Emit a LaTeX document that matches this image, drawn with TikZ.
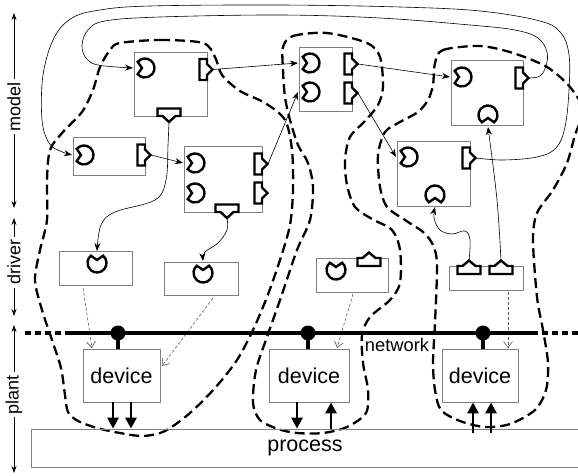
\documentclass[tikz,border=0pt]{standalone}
\usepackage{fontspec}
\setmainfont{Liberation Sans}
\usetikzlibrary{arrows.meta}
\definecolor{boxgray}{RGB}{128,128,128}
\definecolor{ctrlgray}{RGB}{90,90,90}
\tikzset{
 port/.style={draw=black, fill=white, line width=2.4pt, line join=miter},
 pics/inL/.style={code={\draw[port] (220:9.5) arc[start angle=220,end angle=500,radius=9.5] -- (180:3) -- cycle;}},
 pics/inU/.style={code={\draw[port] (310:9.5) arc[start angle=310,end angle=590,radius=9.5] -- (270:3) -- cycle;}},
 pics/inD/.style={code={\draw[port] (130:9.5) arc[start angle=130,end angle=410,radius=9.5] -- (90:3) -- cycle;}},
 pics/rport/.style={code={\draw[port] (-7.5,-10.5) -- (0,-10.5) -- (0,-5.5) -- (5.5,0) -- (0,5.5) -- (0,10.5) -- (-7.5,10.5) -- cycle;}},
 pics/dport/.style={code={\draw[port] (-11.5,-7.5) -- (11.5,-7.5) -- (11.5,0) -- (6.5,0) -- (0,6) -- (-6.5,0) -- (-11.5,0) -- cycle;}},
 pics/uport/.style={code={\draw[port] (-11.5,8) -- (11.5,8) -- (11.5,0) -- (6.5,0) -- (0,-5.5) -- (-6.5,0) -- (-11.5,0) -- cycle;}},
}
\begin{document}
\begin{tikzpicture}[x=1pt,y=-1pt,
 box/.style={draw=boxgray, line width=0.8pt, inner sep=0pt, minimum width=#1},
 box/.default=70pt,
 bigtext/.style={font=\fontsize{21.5}{24}\selectfont},
 conn/.style={draw=black, line width=0.6pt, -{Stealth[length=8pt,width=6pt]}},
 ctrl/.style={draw=ctrlgray, line width=0.6pt, dash pattern=on 3pt off 2pt, -{Straight Barb[length=6pt,width=9pt]}},
 region/.style={draw=black, line width=2.3pt, dash pattern=on 10pt off 5pt},
 net/.style={draw=black, line width=4.5pt},
 netdot/.style={draw=black, line width=4.5pt, dash pattern=on 6pt off 4pt},
 stem/.style={draw=black, line width=4.5pt},
 devarrow/.style={draw=black, line width=2.8pt, -{Triangle[length=11pt,width=11pt]}},
 axisline/.style={draw=black, line width=0.7pt, {Stealth[length=7pt,width=5pt]}-{Stealth[length=7pt,width=5pt]}},
 axlabel/.style={fill=white, rotate=90, inner sep=3pt, font=\fontsize{18}{20}\selectfont},
]
\clip (0,0) rectangle (578,476);

% ---------- regions ----------
\draw[region] plot[smooth cycle, tension=0.5] coordinates {
 (120,43) (160,40) (203,43) (215,57) (222,75) (240,91) (265,103) (285,120) (292,150) (293,190) (290,225) (280,260) (267,297) (253,330) (237,360) (215,388) (190,413) (165,431) (143,436) (120,433) (97,428) (78,421) (68,412) (65,395) (61,368) (52,340) (42,310) (35,280) (40,250) (47,220) (47,180) (50,150) (63,132) (82,112) (93,90) (100,67) (110,50)};
\draw[region] plot[smooth cycle, tension=0.5] coordinates {
 (283,47) (293,36) (327,33) (367,43) (380,57) (383,87) (378,105) (365,121) (350,137) (345,160) (347,185) (355,207) (372,219) (392,230) (400,250) (400,283) (390,300) (370,317) (362,335) (363,363) (368,390) (366,413) (347,427) (323,433) (297,433) (278,429) (260,420) (253,403) (256,370) (267,337) (280,300) (297,250) (310,220) (313,187) (308,163) (298,145) (290,120) (285,97) (283,70)};
\draw[region] plot[smooth cycle, tension=0.5] coordinates {
 (435,63) (443,50) (480,46) (513,53) (547,67) (570,87) (583,110) (575,135) (567,163) (553,190) (537,213) (533,240) (537,297) (543,330) (548,363) (546,390) (535,410) (510,424) (485,427) (460,421) (441,410) (435,390) (433,363) (435,323) (437,265) (433,245) (423,232) (405,220) (387,207) (380,187) (378,155) (385,132) (400,122) (418,112) (428,100) (433,85)};

% ---------- boxes ----------
\node[box=73pt, minimum height=64pt] (A) at (170.5,84) {};
\node[box=72pt, minimum height=38pt] (B) at (109,156) {};
\node[box=78pt, minimum height=66pt] (C) at (223,179) {};
\node[box=53pt, minimum height=64pt] (D) at (325.5,79) {};
\node[box=72pt, minimum height=65pt] (E) at (487,92.5) {};
\node[box=73pt, minimum height=65pt] (F) at (433.5,173.5) {};
\node[box=73pt, minimum height=34pt] (G) at (95.5,268) {};
\node[box=74pt, minimum height=33pt] (H) at (201,278.5) {};
\node[box=72pt, minimum height=34pt] (I) at (352,275) {};
\node[box=74pt, minimum height=24pt] (J) at (486,278) {};
\node[box=77pt, minimum height=53pt, bigtext] (dev1) at (121.5,375.5) {device};
\node[box=80pt, minimum height=53pt, bigtext] (dev2) at (309,375.5) {device};
\node[box=76pt, minimum height=53pt, bigtext] (dev3) at (480,375.5) {device};
\node[box=548pt, minimum height=38pt, bigtext] (proc) at (305,448) {process};

% ---------- ports ----------
\pic at (145,68) {inL};
\pic at (84,155) {inL};
\pic at (195,163) {inL};
\pic at (195,193) {inL};
\pic at (310,63) {inL};
\pic at (310,92) {inL};
\pic at (462,77) {inL};
\pic at (488,115) {inD};
\pic at (408,157) {inL};
\pic at (435,195) {inD};
\pic at (97,263) {inU};
\pic at (203,273) {inU};
\pic at (336,270) {inU};
\pic at (207,69.5) {rport};
\pic at (169,116) {dport};
\pic at (145,155) {rport};
\pic at (262,164) {rport};
\pic at (262,193) {rport};
\pic at (227,212) {dport};
\pic at (352,64) {rport};
\pic at (352,93) {rport};
\pic at (523,78) {rport};
\pic at (470,158) {rport};
\pic at (369,258) {uport};
\pic at (469,266) {uport};
\pic at (501,266) {uport};

% ---------- port tips ----------
\coordinate (Ao) at (213,69.5);
\coordinate (Abo) at (169,122);
\coordinate (Ai) at (133,68);
\coordinate (Bo) at (151,155);
\coordinate (Bi) at (72,155);
\coordinate (Co1) at (268,164);
\coordinate (Cbo) at (227,218);
\coordinate (Ci1) at (183,163);
\coordinate (Do1) at (358,64);
\coordinate (Do2) at (358,93);
\coordinate (Di1) at (298,63);
\coordinate (Di2) at (298,92);
\coordinate (Eo) at (529,78);
\coordinate (Ei) at (450,77);
\coordinate (Ebi) at (488,127);
\coordinate (Fo) at (476,158);
\coordinate (Fi) at (396,157);
\coordinate (Fbi) at (435,207);
\coordinate (Gi) at (97,251);
\coordinate (Hi) at (203,261);
\coordinate (Jo1) at (469,261);
\coordinate (Jo2) at (501,261);

% ---------- model connectors ----------
\draw[conn] (Ao) -- (Di1);
\draw[conn] (Bo) -- (Ci1);
\draw[conn] (Co1) -- (Di2);
\draw[conn] (Do1) -- (Ei);
\draw[conn] (Do2) -- (Fi);
\draw[conn] plot[smooth, tension=0.6] coordinates {(Eo) (540,76) (546,66) (547,52) (538,38) (515,30) (470,25) (380,18) (280,15) (160,17) (105,21) (88,30) (82,45) (86,58) (98,65) (Ai)};
\draw[conn] plot[smooth, tension=0.6] coordinates {(Fo) (503,160) (537,157) (556,148) (565,127) (569,90) (569,55) (561,33) (540,21) (480,11) (400,7) (280,5) (150,6) (100,10) (72,18) (54,38) (43,75) (42,120) (49,143) (60,151) (Bi)};
\draw[conn] plot[smooth, tension=0.6] coordinates {(Abo) (168,145) (166,180) (155,200) (115,212) (101,225) (Gi)};
\draw[conn] plot[smooth, tension=0.6] coordinates {(Cbo) (227,230) (218,243) (205,252) (Hi)};
\draw[conn] plot[smooth, tension=0.6] coordinates {(Jo1) (470,240) (465,231) (452,234) (440,230) (434,218) (Fbi)};
\draw[conn] plot[smooth, tension=0.6] coordinates {(Jo2) (497,200) (Ebi)};

% ---------- driver to device ----------
\coordinate (Gs) at (83,288);
\coordinate (Hs) at (213,298);
\coordinate (Is) at (353,294);
\coordinate (Js) at (508,292);
\coordinate (d1a) at (92,348);
\coordinate (d1b) at (162,366);
\coordinate (d2a) at (337,348);
\coordinate (d3a) at (508,348);
\draw[ctrl] (Gs) -- (d1a);
\draw[ctrl] (Hs) -- (d1b);
\draw[ctrl] (Is) -- (d2a);
\draw[ctrl] (Js) -- (d3a);

% ---------- network ----------
\coordinate (NL) at (65,333);
\coordinate (NR) at (538,333);
\coordinate (NLe) at (25,333);
\coordinate (NRe) at (580,333);
\draw[net] (NL) -- (NR);
\draw[netdot] (NLe) -- (NL);
\draw[netdot] ([xshift=4pt]NR) -- (NRe);
\coordinate (n1) at (118,333);
\coordinate (n2) at (308,333);
\coordinate (n3) at (483,333);
\draw[stem] (n1) -- (n1 |- dev1.north);
\draw[stem] (n2) -- (n2 |- dev2.north);
\draw[stem] (n3) -- (n3 |- dev3.north);
\fill[black] (n1) circle[radius=7.5];
\fill[black] (n2) circle[radius=7.5];
\fill[black] (n3) circle[radius=7.5];
\node[font=\fontsize{18.3}{20}\selectfont, inner sep=0pt] (netlabel) at (397,345) {network};

% ---------- device / process arrows ----------
\draw[devarrow] ([xshift=-8.5pt]dev1.south) -- ([xshift=-8.5pt]dev1.south |- proc.north);
\draw[devarrow] ([xshift=9.5pt]dev1.south) -- ([xshift=9.5pt]dev1.south |- proc.north);
\draw[devarrow] ([xshift=-12pt]dev2.south) -- ([xshift=-12pt]dev2.south |- proc.north);
\draw[devarrow] ([xshift=22pt]dev2.south |- proc.north) -- ([xshift=22pt]dev2.south);
\draw[devarrow] ([xshift=-7pt,yshift=-4pt]dev3.south |- proc.north) -- ([xshift=-7pt]dev3.south);
\draw[devarrow] ([xshift=11pt,yshift=-4pt]dev3.south |- proc.north) -- ([xshift=11pt]dev3.south);

% ---------- layer axes ----------
\coordinate (m1) at (14,13);
\coordinate (m2) at (14,208);
\coordinate (r1) at (14,218);
\coordinate (r2) at (14,316);
\coordinate (p1) at (14,325);
\coordinate (p2) at (14,473);
\draw[axisline] (m1) -- (m2) node[axlabel, pos=0.48] (lmodel) {model};
\draw[axisline] (r1) -- (r2) node[axlabel, pos=0.45] (ldriver) {driver};
\draw[axisline] (p1) -- (p2) node[axlabel, pos=0.47] (lplant) {plant};
\end{tikzpicture}
\end{document}
